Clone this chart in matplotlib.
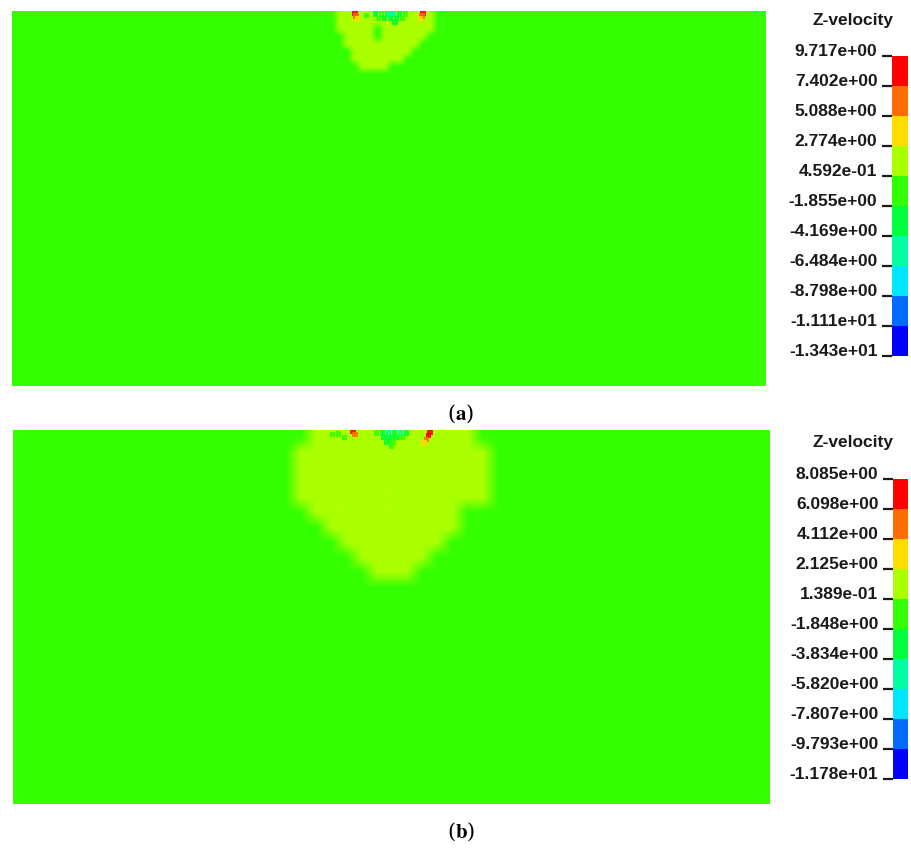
import matplotlib
matplotlib.use("Agg")
import matplotlib.pyplot as plt
import numpy as np
from matplotlib.colors import ListedColormap, BoundaryNorm
from matplotlib.cm import ScalarMappable

plt.rcParams['font.family'] = ['Liberation Sans', 'DejaVu Sans']
plt.rcParams['mathtext.fontset'] = 'stix'

# contour bands, listed from the top of the legend to the bottom
band_colors = ['#ff0000', '#ff6c00', '#ffdc00', '#aaff00', '#33ff00',
               '#00ff3c', '#00ffa0', '#00e4ff', '#006cff', '#0000ff']
band_codes = {'r': 0, 'o': 1, 'Y': 2, 'y': 3, 'g': 4, 'G': 5, 't': 6, 'c': 7, 'b': 8, 'B': 9}

# panel (a)
levels_a = [9.717, 7.402, 5.088, 2.774, 0.4592, -1.855, -4.169, -6.484, -8.798, -11.11, -13.43]
labels_a = ['9.717e+00', '7.402e+00', '5.088e+00', '2.774e+00', '4.592e-01', '-1.855e+00',
            '-4.169e+00', '-6.484e+00', '-8.798e+00', '-1.111e+01', '-1.343e+01']
# blob near the surface: rows of cells, x 0.41..0.59, depth 0..0.18
rows_a = ["ggyyyyyyyyyyyyyggg",
          "ggyyyyyyyyyyyyyggg",
          "ggyyyyygyyyyyyyggg",
          "gggyyyygyyyyyygggg",
          "gggyyyyyyyyyyggggg",
          "ggggyyyyyyyygggggg",
          "ggggyyyyyyyggggggg",
          "gggggyyyyggggggggg",
          "gggggggggggggggggg"]
extent_a = (0.41, 0.59, 0.18, 0.0)
speck_x_a = [0.455, 0.456, 0.458, 0.545, 0.544, 0.542,
             0.482, 0.490, 0.498, 0.506, 0.514, 0.522, 0.486, 0.494, 0.502, 0.510, 0.518,
             0.500, 0.508, 0.470]
speck_d_a = [0.006, 0.014, 0.022, 0.006, 0.014, 0.022,
             0.008, 0.008, 0.008, 0.008, 0.008, 0.008, 0.020, 0.020, 0.020, 0.020, 0.020,
             0.006, 0.030, 0.012]
speck_c_a = ['r', 'o', 'Y', 'r', 'o', 'Y',
             'G', 'g', 'G', 't', 'G', 'g', 'g', 'G', 'G', 'G', 'g',
             't', 'G', 'g']

# panel (b)
levels_b = [8.085, 6.098, 4.112, 2.125, 0.1389, -1.848, -3.834, -5.820, -7.807, -9.793, -11.78]
labels_b = ['8.085e+00', '6.098e+00', '4.112e+00', '2.125e+00', '1.389e-01', '-1.848e+00',
            '-3.834e+00', '-5.820e+00', '-7.807e+00', '-9.793e+00', '-1.178e+01']
# blob: rows of cells, x 0.35..0.65, depth 0..0.44
rows_b = ["ggyyyyyyyyyyygg",
          "gyyyyyyyyyyyyyg",
          "gyyyyyyyyyyyyyg",
          "gyyyyyyyyyyyyyg",
          "gyyyyyyyyyyyyyg",
          "ggyyyyyyyyyyggg",
          "gggyyyyyyyyyggg",
          "ggggyyyyyyygggg",
          "gggggyyyyyggggg",
          "ggggggyyygggggg",
          "ggggggggggggggg"]
extent_b = (0.35, 0.65, 0.44, 0.0)
speck_x_b = [0.449, 0.452, 0.551, 0.549, 0.546, 0.543,
             0.480, 0.488, 0.496, 0.504, 0.512, 0.520, 0.490, 0.498, 0.506, 0.514,
             0.494, 0.502, 0.500, 0.430, 0.438, 0.422]
speck_d_b = [0.004, 0.012, 0.005, 0.015, 0.025, 0.035,
             0.008, 0.008, 0.008, 0.008, 0.008, 0.008, 0.020, 0.020, 0.020, 0.020,
             0.032, 0.032, 0.044, 0.010, 0.020, 0.012]
speck_c_b = ['r', 'o', 'r', 'r', 'o', 'Y',
             'g', 'G', 't', 'G', 't', 'G', 'G', 'G', 'G', 'g',
             'G', 'g', 'g', 'g', 'g', 'g']

W, H = 911, 850
fig = plt.figure(figsize=(W / 100, H / 100), dpi=100)


def px_axes(x0, y0, x1, y1):
    return fig.add_axes([x0 / W, 1 - y1 / H, (x1 - x0) / W, (y1 - y0) / H])


def draw_panel(field_box, cbar_box, title_y, caption_y, caption,
               levels, labels, rows, extent, sx, sd, sc):
    asc = levels[::-1]
    cmap = ListedColormap(band_colors[::-1])
    norm = BoundaryNorm(asc, cmap.N)
    mids = [(levels[i] + levels[i + 1]) / 2 for i in range(len(levels) - 1)]

    ax = px_axes(*field_box)
    ax.set_facecolor(cmap(norm(mids[band_codes['g']])))
    values = np.array([[mids[band_codes[c]] for c in row] for row in rows])
    ax.imshow(values, cmap=cmap, norm=norm, extent=extent, aspect='auto',
              interpolation='bilinear', interpolation_stage='rgba')
    ax.scatter(sx, sd, c=[mids[band_codes[c]] for c in sc], cmap=cmap, norm=norm,
               marker='s', s=16, linewidths=0, alpha=0.9)
    ax.set_xlim(0, 1)
    ax.set_ylim(1, 0)
    ax.set_xticks([])
    ax.set_yticks([])
    for s in ax.spines.values():
        s.set_visible(False)

    cax = px_axes(*cbar_box)
    cb = fig.colorbar(ScalarMappable(norm=norm, cmap=cmap), cax=cax)
    cb.outline.set_visible(False)
    cb.set_ticks(asc, labels=labels[::-1])
    cax.yaxis.set_ticks_position('left')
    cax.tick_params(axis='y', length=7.5, width=1.6, pad=3, labelsize=12.5,
                    colors='#1a1a1a')
    for lbl in cax.get_yticklabels():
        lbl.set_fontweight('bold')
        lbl.set_va('baseline')

    fig.text(853 / W, 1 - title_y / H, 'Z-velocity', ha='center', va='center',
             fontsize=12.5, fontweight='bold', color='#1a1a1a')
    fig.text(461 / W, 1 - caption_y / H, r'($\mathbf{' + caption + '}$)', ha='center',
             va='center', fontsize=15, family='DejaVu Serif')


draw_panel((12, 11, 766, 386), (892, 56, 908, 356), 20, 414, 'a',
           levels_a, labels_a, rows_a, extent_a, speck_x_a, speck_d_a, speck_c_a)
draw_panel((13, 430, 770, 804), (893, 479, 908, 779), 443, 832, 'b',
           levels_b, labels_b, rows_b, extent_b, speck_x_b, speck_d_b, speck_c_b)

fig.savefig('out.png', dpi=100)
